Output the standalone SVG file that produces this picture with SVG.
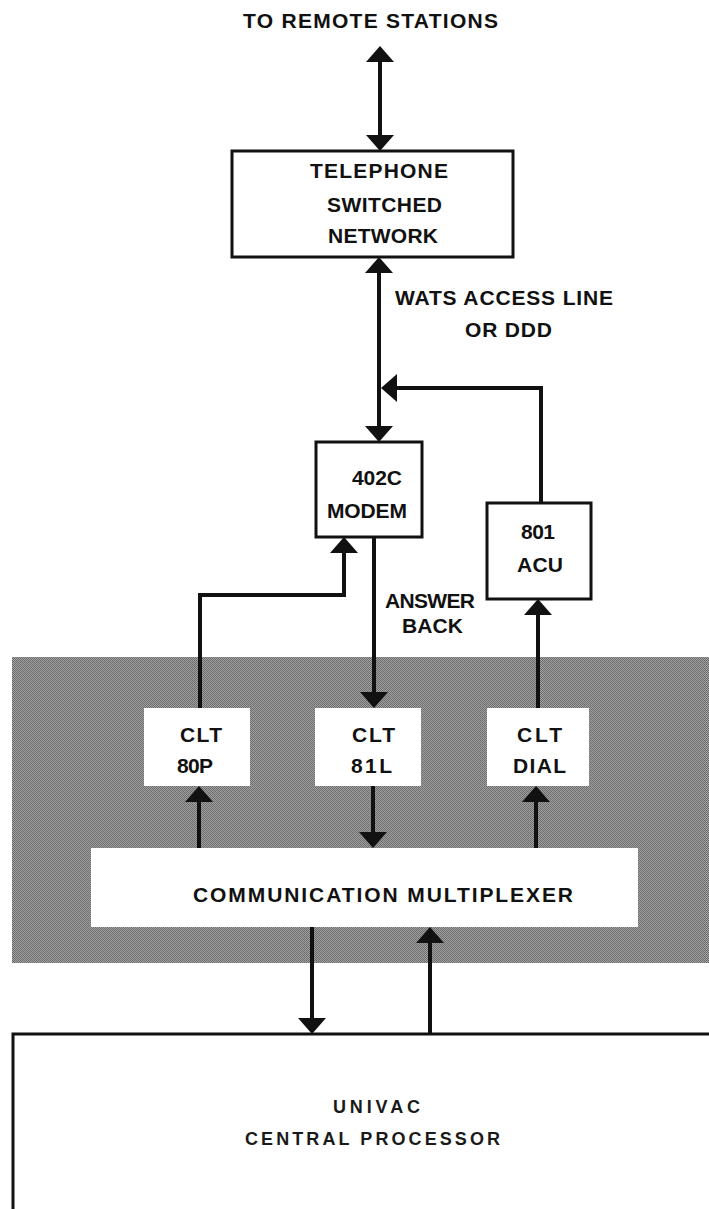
<svg xmlns="http://www.w3.org/2000/svg" width="709" height="1209" viewBox="0 0 709 1209">
<style>
text{font-family:"Liberation Sans",Arial,sans-serif;font-weight:bold;font-size:21px;fill:#111}
.thin{font-size:18px;fill:#1a1a1a}
.box{fill:#fff;stroke:#111;stroke-width:3}
.wbox{fill:#fff;stroke:none}
.conn{fill:none;stroke:#111;stroke-width:4;stroke-linejoin:miter}
</style>
<defs>
<marker id="ah" viewBox="0 0 16 28" refX="12" refY="14" markerWidth="16" markerHeight="28" markerUnits="userSpaceOnUse" orient="auto-start-reverse">
<path d="M0,0 L16,14 L0,28 z" fill="#111"/>
</marker>
<pattern id="dither" width="4" height="4" patternUnits="userSpaceOnUse">
<rect width="4" height="4" fill="#a0a0a0"/>
<rect x="0" y="0" width="1" height="1" fill="#6a6a6a"/>
<rect x="2" y="0" width="1" height="1" fill="#6a6a6a"/>
<rect x="1" y="1" width="1" height="1" fill="#6a6a6a"/>
<rect x="3" y="1" width="1" height="1" fill="#7a7a7a"/>
<rect x="0" y="2" width="1" height="1" fill="#6a6a6a"/>
<rect x="2" y="2" width="1" height="1" fill="#6a6a6a"/>
<rect x="1" y="3" width="1" height="1" fill="#7a7a7a"/>
<rect x="3" y="3" width="1" height="1" fill="#6a6a6a"/>
</pattern>
</defs>

<g id="shade">
<rect x="12" y="657" width="700" height="306" fill="url(#dither)"/>
</g>

<text x="243" y="28" textLength="255" lengthAdjust="spacing">TO REMOTE STATIONS</text>

<g id="telephone">
<rect class="box" x="232" y="151" width="281" height="106"/>
<text x="310" y="178" textLength="138" lengthAdjust="spacing">TELEPHONE</text>
<text x="327" y="212" textLength="115" lengthAdjust="spacing">SWITCHED</text>
<text x="328" y="243" textLength="110" lengthAdjust="spacing">NETWORK</text>
</g>

<text x="395" y="305" textLength="218" lengthAdjust="spacing">WATS ACCESS LINE</text>
<text x="465" y="337" textLength="87" lengthAdjust="spacing">OR DDD</text>

<g id="modem">
<rect class="box" x="316" y="442" width="106" height="95"/>
<text x="352" y="485" textLength="50" lengthAdjust="spacing">402C</text>
<text x="327" y="518" textLength="80" lengthAdjust="spacing">MODEM</text>
</g>

<g id="acu">
<rect class="box" x="487" y="503" width="104" height="96"/>
<text x="521" y="539" textLength="34" lengthAdjust="spacing">801</text>
<text x="517" y="572" textLength="46" lengthAdjust="spacing">ACU</text>
</g>

<text x="385" y="608" textLength="90" lengthAdjust="spacing">ANSWER</text>
<text x="402" y="633" textLength="61" lengthAdjust="spacing">BACK</text>

<g id="clt80p">
<rect class="wbox" x="144" y="708" width="106" height="78"/>
<text x="180" y="742" textLength="42" lengthAdjust="spacing">CLT</text>
<text x="177" y="773" textLength="36" lengthAdjust="spacing">80P</text>
</g>

<g id="clt81l">
<rect class="wbox" x="315" y="708" width="106" height="78"/>
<text x="352" y="742" textLength="43" lengthAdjust="spacing">CLT</text>
<text x="351" y="773" textLength="41" lengthAdjust="spacing">81L</text>
</g>

<g id="cltdial">
<rect class="wbox" x="487" y="708" width="102" height="78"/>
<text x="517" y="742" textLength="45" lengthAdjust="spacing">CLT</text>
<text x="513" y="773" textLength="53" lengthAdjust="spacing">DIAL</text>
</g>

<g id="multiplexer">
<rect class="wbox" x="91" y="848" width="547" height="79"/>
<text x="193" y="902" textLength="380" lengthAdjust="spacing">COMMUNICATION MULTIPLEXER</text>
</g>

<g id="central">
<rect class="box" x="13" y="1034" width="720" height="200"/>
<text class="thin" x="333" y="1113" textLength="87" lengthAdjust="spacing">UNIVAC</text>
<text class="thin" x="245" y="1145" textLength="255" lengthAdjust="spacing">CENTRAL PROCESSOR</text>
</g>

<g id="connectors">
<path class="conn" d="M380,50 V147" marker-start="url(#ah)" marker-end="url(#ah)"/>
<path class="conn" d="M379,261 V438" marker-start="url(#ah)" marker-end="url(#ah)"/>
<path class="conn" d="M541,503 V388 H385" marker-end="url(#ah)"/>
<path class="conn" d="M200,708 V595 H344 V541" marker-end="url(#ah)"/>
<path class="conn" d="M374,537 V704" marker-end="url(#ah)"/>
<path class="conn" d="M538,708 V603" marker-end="url(#ah)"/>
<path class="conn" d="M199,848 V790" marker-end="url(#ah)"/>
<path class="conn" d="M373,786 V844" marker-end="url(#ah)"/>
<path class="conn" d="M536,848 V790" marker-end="url(#ah)"/>
<path class="conn" d="M312,927 V1030" marker-end="url(#ah)"/>
<path class="conn" d="M430,1034 V931" marker-end="url(#ah)"/>
</g>
</svg>
